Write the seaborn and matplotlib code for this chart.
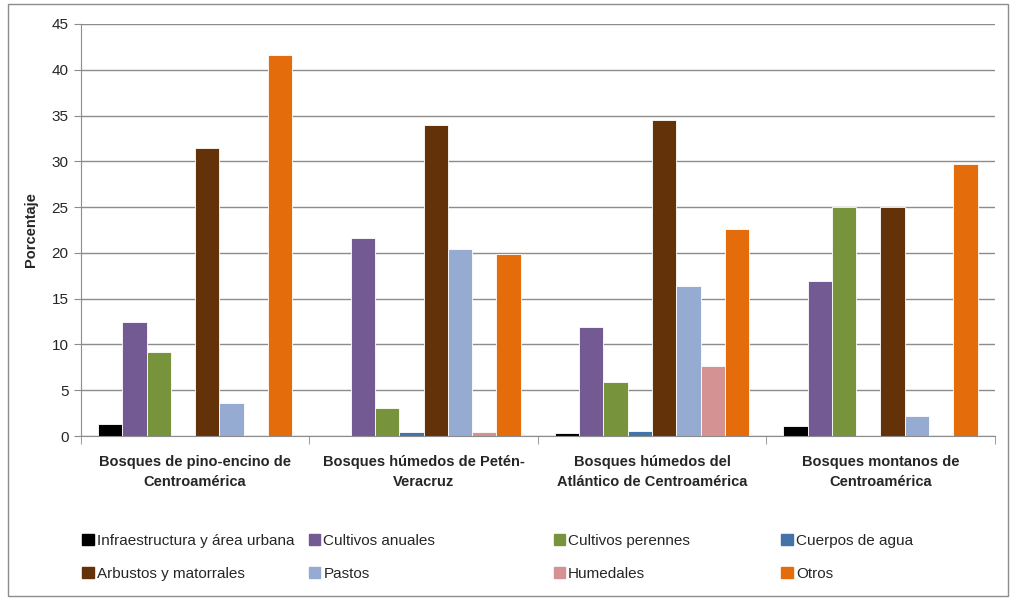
"""Uso del suelo por ecorregión"""
import seaborn as sns
import matplotlib.pyplot as plt
import matplotlib.patches as mpatches
import pandas as pd

bosques = ['Bosques de pino-encino de\nCentroamérica',
           'Bosques húmedos de Petén-\nVeracruz',
           'Bosques húmedos del\nAtlántico de Centroamérica',
           'Bosques montanos de\nCentroamérica']
usos = ['Infraestructura y área urbana', 'Cultivos anuales', 'Cultivos perennes',
        'Cuerpos de agua', 'Arbustos y matorrales', 'Pastos', 'Humedales', 'Otros']
colores = ['#000000', '#735A93', '#77933C', '#4473A8',
           '#643208', '#95ABD1', '#D49392', '#E46C0A']

infraestructura = [1.3, 0.15, 0.35, 1.1]
cultivos_anuales = [12.5, 21.6, 11.9, 16.9]
cultivos_perennes = [9.2, 3.1, 5.9, 25.0]
cuerpos_agua = [0.1, 0.4, 0.6, 0.1]
arbustos = [31.5, 34.0, 34.5, 25.0]
pastos = [3.6, 20.4, 16.4, 2.2]
humedales = [0.0, 0.4, 7.6, 0.0]
otros = [41.6, 19.9, 22.6, 29.7]

series = [infraestructura, cultivos_anuales, cultivos_perennes, cuerpos_agua,
          arbustos, pastos, humedales, otros]
rows = []
for uso, vals in zip(usos, series):
    for b, v in zip(bosques, vals):
        rows.append({'bosque': b, 'uso': uso, 'valor': v})
df = pd.DataFrame(rows)

sns.set_style('white')
plt.rcParams['font.family'] = ['Liberation Sans', 'DejaVu Sans']

fig = plt.figure(figsize=(10.16, 5.98), dpi=100)
ax = fig.add_axes([0.0797, 0.2709, 0.8993, 0.689])

sns.barplot(data=df, x='bosque', y='valor', hue='uso', hue_order=usos,
            palette=colores, width=0.85, saturation=1, edgecolor='white',
            linewidth=0.6, ax=ax, legend=False)

ax.set_ylim(0, 45)
ax.set_xlim(-0.5, 3.5)
ax.set_yticks(range(0, 46, 5))
ax.yaxis.grid(True, color='#8c8c8c', linewidth=1)
ax.set_axisbelow(True)
for s in ['top', 'right']:
    ax.spines[s].set_visible(False)
for s in ['left', 'bottom']:
    ax.spines[s].set_color('#8c8c8c')
ax.tick_params(axis='y', length=5, color='#8c8c8c', labelsize=11, pad=4, left=True)
ax.set_xticks(range(4))
ax.set_xticklabels(bosques, fontweight='bold', fontsize=10.5, linespacing=1.55)
ax.tick_params(axis='x', length=0, pad=14)
ax.set_xticks([-0.5, 0.5, 1.5, 2.5, 3.5], minor=True)
ax.tick_params(axis='x', which='minor', length=6, color='#8c8c8c', bottom=True)
ax.set_xlabel('')
ax.set_ylabel('Porcentaje', fontweight='bold', fontsize=10.5, labelpad=10)

# leyenda en 4 columnas, como en Excel
handles = [mpatches.Patch(color=c, label=u) for u, c in zip(usos, colores)]
xs = [0.075, 0.298, 0.539, 0.763]
for i, x in enumerate(xs):
    leg = fig.legend(handles=[handles[i], handles[i + 4]], loc='upper left',
                     bbox_to_anchor=(x, 0.118), frameon=False, fontsize=11,
                     handlelength=0.75, handleheight=0.75, handletextpad=0.2,
                     labelspacing=1.25, borderaxespad=0)

fig.patches.append(mpatches.Rectangle((0.008, 0.004), 0.984, 0.99,
                                      transform=fig.transFigure, fill=False,
                                      edgecolor='#8c8c8c', linewidth=1))

fig.savefig('out.png', dpi=100)
